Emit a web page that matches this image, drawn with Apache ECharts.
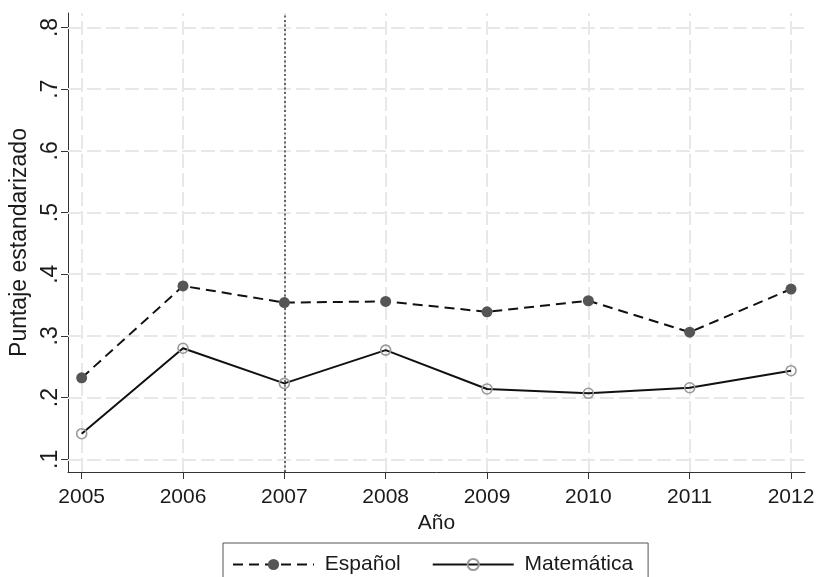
<!DOCTYPE html>
<html><head><meta charset="utf-8">
<script src="https://cdn.jsdelivr.net/npm/echarts@6/dist/echarts.min.js"></script>
<style>html,body{margin:0;padding:0;background:#fff}#c{width:818px;height:577px}</style>
</head><body><div id="c"></div>
<script>
const years = [2005, 2006, 2007, 2008, 2009, 2010, 2011, 2012];
const espanol = [0.232, 0.381, 0.354, 0.356, 0.339, 0.357, 0.306, 0.376];
const matematica = [0.1415, 0.280, 0.223, 0.277, 0.214, 0.207, 0.216, 0.2436];
const yTicks = [0.1, 0.2, 0.3, 0.4, 0.5, 0.6, 0.7, 0.8];
const reformYear = 2007;

const font = 'Liberation Sans, Arial, sans-serif';
const gridColor = '#e8e8e8';
const chart = echarts.init(document.getElementById('c'));
chart.setOption({
  animation: false,
  backgroundColor: '#fff',
  grid: { left: 68, right: 13, top: 13, bottom: 105, containLabel: false, outerBoundsMode: 'none' },
  xAxis: {
    type: 'value', min: 2004.865, max: 2012.138,
    name: 'Año', nameLocation: 'middle', nameGap: 36,
    nameTextStyle: { fontFamily: font, fontSize: 21, color: '#1a1a1a' },
    axisLine: { show: true, lineStyle: { color: '#333', width: 1 } },
    axisTick: { show: true, length: 7, customValues: years, lineStyle: { color: '#333' } },
    axisLabel: { customValues: years, margin: 15, fontFamily: font, fontSize: 21, color: '#1a1a1a', formatter: v => String(v) },
    splitLine: { show: false }
  },
  yAxis: {
    type: 'value', min: 0.0794, max: 0.8235,
    name: 'Puntaje estandarizado', nameLocation: 'middle', nameGap: 33, nameRotate: 90,
    nameTextStyle: { fontFamily: font, fontSize: 23, color: '#1a1a1a' },
    axisLine: { show: true, lineStyle: { color: '#333', width: 1 } },
    axisTick: { show: true, length: 7, customValues: yTicks, lineStyle: { color: '#333' } },
    axisLabel: { customValues: yTicks, rotate: 90, margin: 6, fontFamily: font, fontSize: 23, color: '#1a1a1a',
      formatter: v => { const s = (Math.round(v * 10) / 10).toFixed(1); return s.replace(/^0/, ''); } },
    splitLine: { show: false }
  },
  legend: {
    top: 543, left: 223,
    padding: [11, 15, 30, 9],
    borderColor: '#555', borderWidth: 1,
    itemWidth: 81, itemHeight: 14, itemGap: 31,
    formatter: n => ' ' + n,
    textStyle: { fontFamily: font, fontSize: 21, color: '#1a1a1a' },
    data: ['Español', 'Matemática']
  },
  series: [
    {
      name: 'grid', type: 'line', data: [], silent: true,
      markLine: {
        silent: true, symbol: 'none', label: { show: false },
        lineStyle: { color: gridColor, type: [14, 5], width: 2 },
        data: yTicks.map(v => ({ yAxis: v })).concat(years.map(v => ({ xAxis: v })))
      }
    },
    {
      name: 'ref', type: 'line', data: [], silent: true,
      markLine: {
        silent: true, symbol: 'none', label: { show: false },
        lineStyle: { color: '#444', type: [2, 2.5], width: 1.6 },
        data: [{ xAxis: reformYear }]
      }
    },
    {
      name: 'Español', type: 'line',
      data: years.map((y, i) => [y, espanol[i]]),
      symbol: 'circle', symbolSize: 11,
      lineStyle: { color: '#111', width: 2, type: [10, 6] },
      itemStyle: { color: '#555', borderWidth: 0 },
      z: 5
    },
    {
      name: 'Matemática', type: 'line',
      data: years.map((y, i) => [y, matematica[i]]),
      symbol: 'circle', symbolSize: 10,
      lineStyle: { color: '#111', width: 2 },
      itemStyle: { color: 'rgba(255,255,255,0)', borderColor: '#999', borderWidth: 1.6 },
      z: 5
    }
  ]
});
</script></body></html>
